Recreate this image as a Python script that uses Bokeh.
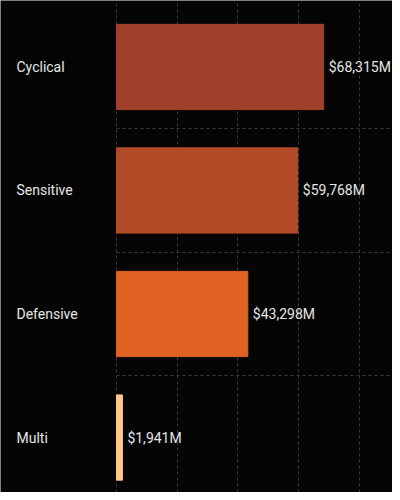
from bokeh.plotting import figure
from bokeh.models import ColumnDataSource, Range1d, FixedTicker
from bokeh.core.properties import value
from bokeh.embed import file_html
from bokeh.resources import INLINE

categories = ["Cyclical", "Sensitive", "Defensive", "Multi"]
values = [68315, 59768, 43298, 1941]
colors = ["#A0402A", "#B24B27", "#E06222", "#FFC88A"]
value_labels = ["$68,315M", "$59,768M", "$43,298M", "$1,941M"]
x_ticks = [0, 20000, 40000, 60000, 80000]

X_START, X_END = -38246, 91000

n = len(categories)
ypos = [n - 1 - i for i in range(n)]
source = ColumnDataSource(dict(cat=categories, val=values, color=colors,
                               lab=value_labels, y=ypos,
                               lx=[X_START] * n))

FONT = "Roboto"
TEXT = "#E6E6E6"

p = figure(width=392, height=492, output_backend="svg", toolbar_location=None,
           x_range=Range1d(X_START, X_END), y_range=Range1d(-0.445, 3.538),
           min_border_left=0, min_border_right=0, min_border_top=0,
           min_border_bottom=0)
p.background_fill_color = "#050505"
p.border_fill_color = "#050505"
p.outline_line_color = None

p.xaxis.visible = False
p.yaxis.visible = False

p.xgrid.ticker = FixedTicker(ticks=x_ticks)
p.ygrid.ticker = FixedTicker(ticks=[y + 0.5 for y in ypos[1:]])
for g in (p.xgrid, p.ygrid):
    g.grid_line_color = "#3A3A3A"
    g.grid_line_dash = "3 3"
    g.grid_line_width = 1
p.ygrid.cross_bounds = (0, X_END)

p.hbar(y="y", right="val", left=0, height=0.69, color="color", source=source)

p.text(x="val", y="y", text="lab", x_offset=5, text_baseline="middle",
       text_align="left", text_color=TEXT, text_font=value(FONT),
       text_font_size="14px", source=source)

p.text(x="lx", y="y", text="cat", x_offset=16, text_baseline="middle",
       text_align="left", text_color=TEXT, text_font=value(FONT),
       text_font_size="14px", source=source)

open("out.html", "w").write(file_html(p, INLINE))
